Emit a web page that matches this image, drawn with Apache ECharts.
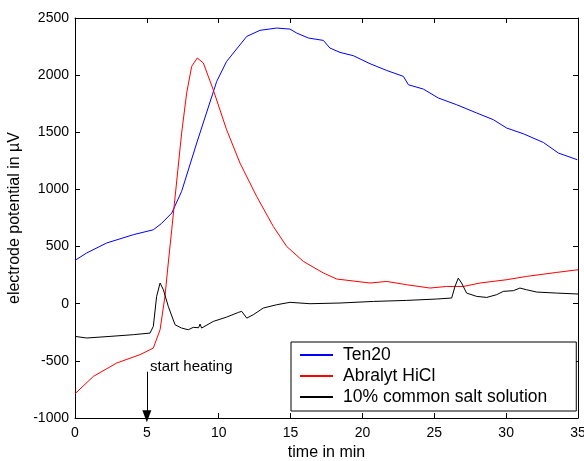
<!DOCTYPE html>
<html><head><meta charset="utf-8">
<script src="https://cdn.jsdelivr.net/npm/echarts@6/dist/echarts.min.js"></script>
<style>html,body{margin:0;padding:0;background:#fff}#c{width:584px;height:461px}</style>
</head><body><div id="c"></div>
<script>
const ten20 = [[0,379],[0.8,443],[2.2,531],[4.06,604],[5.45,647],[6.0,700],[6.73,793],[7.42,983],[8.47,1406],[9.86,1945],[10.55,2120],[11.95,2339],[12.87,2392],[14.03,2412],[14.96,2403],[15.43,2368],[16.24,2325],[17.28,2304],[17.74,2237],[18.44,2199],[19.37,2170],[20.53,2100],[21.69,2041],[22.85,1989],[23.2,1916],[24.24,1878],[25.28,1800],[26.56,1741],[27.95,1669],[29.11,1610],[30.04,1537],[31.2,1487],[32.59,1411],[33.64,1318],[34.95,1260]];
const abralyt = [[0,-788],[1.28,-636],[2.9,-519],[4.52,-446],[5.45,-388],[5.92,-227],[6.26,64],[6.49,356],[6.73,647],[7.42,1493],[7.77,1843],[8.12,2077],[8.51,2150],[8.93,2106],[9.62,1872],[10.55,1522],[11.48,1231],[12.64,939],[13.8,676],[14.73,501],[15.89,370],[17.28,269],[18.21,216],[20.53,181],[21.69,195],[23.08,166],[24.7,137],[25.86,151],[27.02,151],[28.18,181],[30.04,210],[31.43,239],[33.52,274],[35,297]];
const salt = [[0,-286],[0.81,-300],[2.44,-286],[4.06,-271],[5.22,-257],[5.45,-198],[5.68,64],[5.92,181],[6.15,122],[6.49,-23],[6.96,-184],[7.42,-213],[7.88,-228],[8.23,-207],[8.6,-210],[8.7,-178],[8.81,-213],[9.62,-155],[10.55,-117],[11.37,-76],[11.6,-67],[11.95,-126],[12.41,-96],[13.1,-38],[14.03,-9],[14.96,12],[16.35,0],[18.44,6],[20.76,20],[23.08,29],[25.17,41],[26.21,50],[26.44,151],[26.67,224],[26.9,181],[27.25,93],[27.95,64],[28.65,55],[29.34,79],[29.8,108],[30.5,114],[30.96,137],[31.43,122],[32.13,102],[33.52,93],[35,85]];
const seriesNames = ['Ten20','Abralyt HiCl','10% common salt solution'];
const arrowStart = [5,-595], arrowEnd = [5,-985];
const annotation = 'start heating';

const font = 'Liberation Sans, Arial, sans-serif';
const chart = echarts.init(document.getElementById('c'));
const axisCommon = {
  type:'value', axisLine:{show:true,onZero:false,lineStyle:{color:'#000',width:1}},
  axisTick:{show:true,inside:true,length:5,lineStyle:{color:'#000'}},
  splitLine:{show:false}
};
const plain = v => String(v);
chart.setOption({
  backgroundColor:'#fff',
  animation:false,
  grid:{left:75,right:6,top:18,bottom:43,containLabel:false,outerBoundsMode:'none'},
  xAxis:[
    Object.assign({},axisCommon,{min:0,max:35,interval:5,position:'bottom',name:'time in min',nameLocation:'middle',nameGap:26,
      nameTextStyle:{fontFamily:font,fontSize:16,color:'#000'},
      axisLabel:{fontFamily:font,fontSize:14,color:'#000',margin:8,formatter:plain}}),
    Object.assign({},axisCommon,{min:0,max:35,interval:5,position:'top',axisLabel:{show:false}})
  ],
  yAxis:[
    Object.assign({},axisCommon,{min:-1000,max:2500,interval:500,position:'left',name:'electrode potential in µV',nameLocation:'middle',nameGap:52,nameRotate:90,
      nameTextStyle:{fontFamily:font,fontSize:16,color:'#000'},
      axisLabel:{fontFamily:font,fontSize:14,color:'#000',margin:6,formatter:plain}}),
    Object.assign({},axisCommon,{min:-1000,max:2500,interval:500,position:'right',axisLabel:{show:false}})
  ],
  legend:{
    orient:'vertical',left:291,top:342,
    borderColor:'#000',borderWidth:1,backgroundColor:'#fff',borderRadius:0,
    padding:[4,29,5,9],itemGap:3,itemWidth:33,itemHeight:2,
    textStyle:{fontFamily:font,fontSize:17.5,color:'#000',padding:[0,0,0,5]},
    data:seriesNames.map(n=>({name:n,icon:'rect'}))
  },
  graphic:[{type:'text',left:150,top:359,style:{text:annotation,font:'15px '+font,fill:'#000'}}],
  series:[
    {name:seriesNames[0],type:'line',data:ten20,symbol:'none',lineStyle:{color:'#0000ff',width:1},itemStyle:{color:'#0000ff'}},
    {name:seriesNames[1],type:'line',data:abralyt,symbol:'none',lineStyle:{color:'#ff0000',width:1},itemStyle:{color:'#ff0000'}},
    {name:seriesNames[2],type:'line',data:salt,symbol:'none',lineStyle:{color:'#000',width:1},itemStyle:{color:'#000'},
     markLine:{silent:true,symbol:['none','triangle'],symbolSize:[9,12],lineStyle:{color:'#000',width:1,type:'solid'},label:{show:false},
       data:[[{coord:arrowStart},{coord:arrowEnd}]]}}
  ]
});
</script></body></html>
